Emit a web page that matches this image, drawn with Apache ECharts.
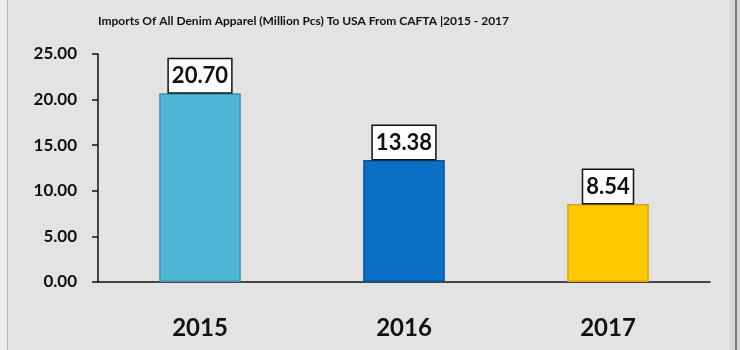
<!DOCTYPE html>
<html>
<head>
<meta charset="utf-8">
<script src="https://cdn.jsdelivr.net/npm/echarts@6/dist/echarts.min.js"></script>
<style>
  html, body { margin: 0; padding: 0; }
  #chart { width: 740px; height: 350px; }
</style>
</head>
<body>
<div id="chart"></div>
<script>
var titleText = 'Imports Of All Denim Apparel (Million Pcs) To USA From CAFTA |2015 - 2017';
var categories = ['2015', '2016', '2017'];
var values = [20.70, 13.38, 8.54];
var barColors = ['#4db6d6', '#0a6fc6', '#ffc800'];
var barBorders = ['#3a93ad', '#08559a', '#d9a600'];
var yTicks = [0, 5, 10, 15, 20, 25];

var chart = echarts.init(document.getElementById('chart'));
var font = 'Lato, "Liberation Sans", sans-serif';

chart.setOption({
  backgroundColor: '#e3e3e4',
  animation: false,
  title: {
    text: titleText,
    left: 93,
    top: 10,
    textStyle: { fontFamily: font, fontWeight: 'bold', fontSize: 12, color: '#111' }
  },
  graphic: [
    { type: 'rect', shape: { x: 0, y: 0, width: 7, height: 350 }, style: { fill: '#ececec' } },
    { type: 'rect', shape: { x: 7, y: 0, width: 1, height: 350 }, style: { fill: '#b8b8b8' } },
    { type: 'rect', shape: { x: 730, y: 0, width: 10, height: 350 }, style: { fill: '#d6d6d6' } },
    { type: 'rect', shape: { x: 735, y: 0, width: 2, height: 350 }, style: { fill: '#7a7a7a' } }
  ],
  grid: { left: 98, right: 30, top: 54, bottom: 68 },
  xAxis: {
    type: 'category',
    data: categories,
    axisLine: { lineStyle: { color: '#111', width: 1.5 } },
    axisTick: { show: false },
    axisLabel: {
      margin: 34,
      fontFamily: font, fontWeight: 'bold', fontSize: 24, color: '#111'
    }
  },
  yAxis: {
    type: 'value',
    min: yTicks[0],
    max: yTicks[yTicks.length - 1],
    interval: yTicks[1] - yTicks[0],
    splitLine: { show: false },
    axisLine: { show: true, lineStyle: { color: '#111', width: 1.5 } },
    axisTick: { show: true, length: 6, lineStyle: { color: '#111', width: 1.5 } },
    axisLabel: {
      margin: 21,
      fontFamily: font, fontWeight: 'bold', fontSize: 17, color: '#111',
      formatter: function (v) { return v.toFixed(2); }
    }
  },
  series: [{
    type: 'bar',
    barWidth: '40%',
    data: values.map(function (v, i) {
      return {
        value: v,
        itemStyle: { color: barColors[i], borderColor: barBorders[i], borderWidth: 1.5 }
      };
    }),
    label: {
      show: true,
      position: 'top',
      distance: 1,
      formatter: function (p) { return p.value.toFixed(2); },
      fontFamily: font, fontWeight: 'bold', fontSize: 22, color: '#111',
      backgroundColor: '#ffffff',
      borderColor: '#111',
      borderWidth: 1.5,
      padding: [6, 3, 5, 3]
    }
  }]
});
</script>
</body>
</html>
